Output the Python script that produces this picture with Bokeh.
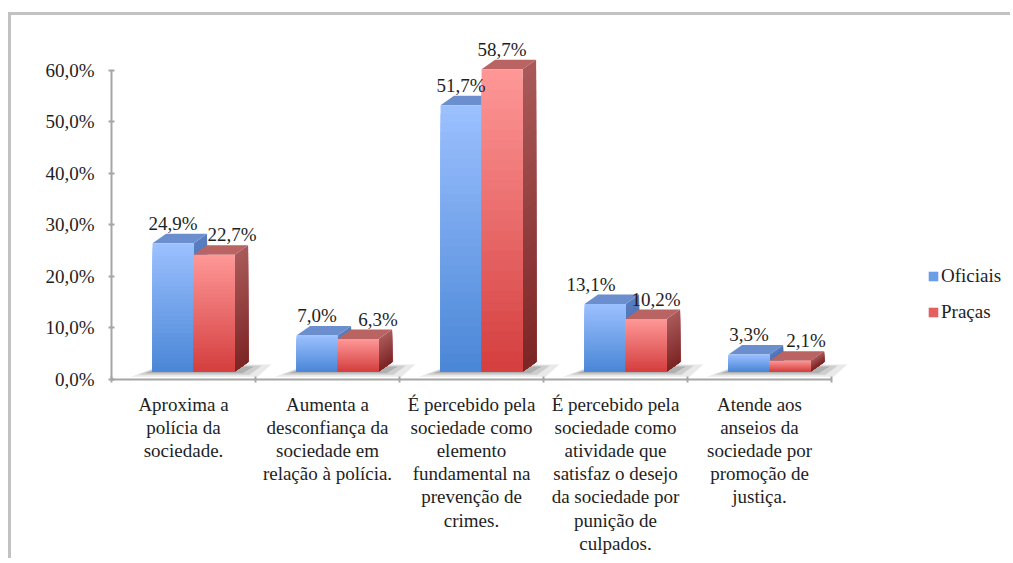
import numpy as np
from bokeh.plotting import figure
from bokeh.models import (ColumnDataSource, LinearAxis, FixedTicker, Range1d,
                          Legend, LegendItem)
from bokeh.core.properties import value
from bokeh.embed import file_html
from bokeh.resources import INLINE

# ---------------- data ----------------
categories = [
    "Aproxima a\npolícia da\nsociedade.",
    "Aumenta a\ndesconfiança da\nsociedade em\nrelação à polícia.",
    "É percebido pela\nsociedade como\nelemento\nfundamental na\nprevenção de\ncrimes.",
    "É percebido pela\nsociedade como\natividade que\nsatisfaz o desejo\nda sociedade por\npunição de\nculpados.",
    "Atende aos\nanseios da\nsociedade por\npromoção de\njustiça.",
]
series_names = ["Oficiais", "Praças"]
oficiais = [24.9, 7.0, 51.7, 13.1, 3.3]
pracas = [22.7, 6.3, 58.7, 10.2, 2.1]
y_ticks = [0, 10, 20, 30, 40, 50, 60]
y_tick_labels = ["0,0%", "10,0%", "20,0%", "30,0%", "40,0%", "50,0%", "60,0%"]

# label nudges (px), styling only
nudge_oficiais = [0, 0, 0, -14, 0]
nudge_pracas = [18, 20, 0, 10, 16]

# ---------------- layout ----------------
W, H = 1002, 546
px_x0, px_per_cat = 100.0, 144.0
px_y0, px_per_pct = 363.5, 5.15
x_start = -px_x0 / px_per_cat
x_end = (W - px_x0) / px_per_cat
y_end = px_y0 / px_per_pct
y_start = -(H - px_y0) / px_per_pct

FONT_NAME = "Times New Roman, Liberation Serif, serif"
FONT = value(FONT_NAME)
TXT = "#1e1e1e"
AX = "#a6a6a6"

p = figure(width=W, height=H, x_range=Range1d(x_start, x_end),
           y_range=Range1d(y_start, y_end), x_axis_type=None, y_axis_type=None,
           toolbar_location=None, output_backend="svg", min_border=0,
           outline_line_color=None, background_fill_color="white",
           border_fill_color="white")
p.styles = {"border-left": "3px solid #c2c2c2", "border-top": "3px solid #c2c2c2",
            "margin-top": "12px", "margin-left": "8px"}

# ---------------- 3D bar geometry ----------------
bw = 0.285           # bar width (category units)
off = 0.07           # pair offset
base = 1.45          # front face lift (%)
ddx = 13.5 / px_per_cat
ddy = 9.5 / px_per_pct
N = 30


def hex2rgb(h):
    h = h.lstrip("#")
    return np.array([int(h[i:i + 2], 16) for i in (0, 2, 4)], dtype=float)


def mix(c0, c1, t):
    c = hex2rgb(c0) * (1 - t) + hex2rgb(c1) * t
    return "#%02x%02x%02x" % tuple(int(round(v)) for v in c)


styles = {
    "Oficiais": dict(front_bot="#4a86d6", front_top="#9cc1ff",
                     side_bot="#33609f", side_top="#5a7fc0", top="#6b8ecf"),
    "Praças": dict(front_bot="#d43e3e", front_top="#ff9898",
                   side_bot="#7c2525", side_top="#aa5a5a", top="#b96363"),
}

# shadows (soft, layered)
for grow, alpha in [(1.0, 0.13), (0.6, 0.18), (0.25, 0.24)]:
    xs, ys = [], []
    for i in range(len(categories)):
        c = i + 0.5 + off
        xl, xr = c - bw, c + bw
        xs.append([xl - 0.13 * grow - 0.02, xr + 0.14 * grow + 0.02,
                   xr + ddx + 0.16 * grow, xl + ddx - 0.02])
        ys.append([base - 0.9 * grow - 0.1, base - 0.9 * grow - 0.1,
                   base + ddy * (0.45 + 0.3 * grow), base + ddy * (0.45 + 0.3 * grow)])
    p.patches(xs, ys, fill_color="#555555", fill_alpha=alpha, line_color=None)

legend_items = []
for s, (name, vals) in enumerate(zip(series_names, [oficiais, pracas])):
    st = styles[name]
    fl, fr, fb, ft, fc = [], [], [], [], []
    sxs, sys_, sc = [], [], []
    txs, tys = [], []
    for i, v in enumerate(vals):
        c = i + 0.5 + off
        x0 = c - bw if s == 0 else c
        x1 = x0 + bw
        # stacked gradient: tallest (lightest) first, shorter darker ones on top
        for k in range(N, 0, -1):
            t = (k - 0.5) / N
            top_k = base + v * k / N
            fl.append(x0); fr.append(x1)
            fb.append(base); ft.append(top_k)
            fc.append(mix(st["front_bot"], st["front_top"], t))
            sxs.append([x1, x1 + ddx, x1 + ddx, x1])
            sys_.append([base, base + ddy, top_k + ddy, top_k])
            sc.append(mix(st["side_bot"], st["side_top"], t))
        top = base + v
        txs.append([x0, x1, x1 + ddx, x0 + ddx])
        tys.append([top, top, top + ddy, top + ddy])
    p.patches(sxs, sys_, fill_color=sc, line_color=None)
    p.patches(txs, tys, fill_color=st["top"], line_color=None)
    fr_r = p.quad(left=fl, right=fr, bottom=fb, top=ft, fill_color=fc, line_color=None)
    legend_items.append(LegendItem(label=name, renderers=[fr_r], index=int(N * 0.6)))

# value labels
lab_x, lab_y, lab_t, lab_dx = [], [], [], []
for s, (vals, nud) in enumerate([(oficiais, nudge_oficiais), (pracas, nudge_pracas)]):
    for i, v in enumerate(vals):
        c = i + 0.5 + off
        lab_x.append(c - bw / 2 if s == 0 else c + bw / 2)
        lab_y.append(base + v)
        lab_t.append(("%.1f%%" % v).replace(".", ","))
        lab_dx.append(nud[i])
src = ColumnDataSource(dict(x=lab_x, y=lab_y, t=lab_t, dx=lab_dx))
p.text(x="x", y="y", text="t", x_offset="dx", y_offset=-20, source=src,
       text_align="center", text_baseline="middle", text_font=FONT,
       text_font_size="19px", text_color=TXT)

# ---------------- axes ----------------
yax = LinearAxis(fixed_location=0, bounds=(0, 60),
                 ticker=FixedTicker(ticks=y_ticks, minor_ticks=[]),
                 major_label_overrides={t: l for t, l in zip(y_ticks, y_tick_labels)},
                 axis_line_color=AX, axis_line_width=2,
                 major_tick_line_color=AX, major_tick_line_width=2,
                 major_tick_in=3, major_tick_out=3, minor_tick_line_color=None,
                 major_label_standoff=14, major_label_text_font=FONT_NAME,
                 major_label_text_font_size="19px", major_label_text_color=TXT)
p.add_layout(yax, "left")

cat_ticks = [i + 0.5 for i in range(len(categories))]
xax = LinearAxis(fixed_location=0, bounds=(0, len(categories)),
                 ticker=FixedTicker(ticks=cat_ticks,
                                    minor_ticks=list(range(len(categories) + 1))),
                 major_label_overrides={t: l for t, l in zip(cat_ticks, categories)},
                 axis_line_color=AX, axis_line_width=2,
                 major_tick_line_color=None, major_tick_in=0, major_tick_out=0,
                 minor_tick_line_color=AX, minor_tick_line_width=2,
                 minor_tick_in=3, minor_tick_out=3,
                 major_label_standoff=12, major_label_text_font=FONT_NAME,
                 major_label_text_font_size="19px", major_label_text_color=TXT,
                 major_label_text_line_height=1.1)
p.add_layout(xax, "below")

legend = Legend(items=legend_items,
                location=(916, 238), orientation="vertical", padding=0, margin=0,
                spacing=14, label_height=20, glyph_width=12, glyph_height=12,
                label_standoff=2, border_line_color=None, background_fill_alpha=0,
                label_text_font=FONT_NAME, label_text_font_size="19px",
                label_text_color=TXT)
p.add_layout(legend)

open("out.html", "w").write(file_html(p, INLINE))
